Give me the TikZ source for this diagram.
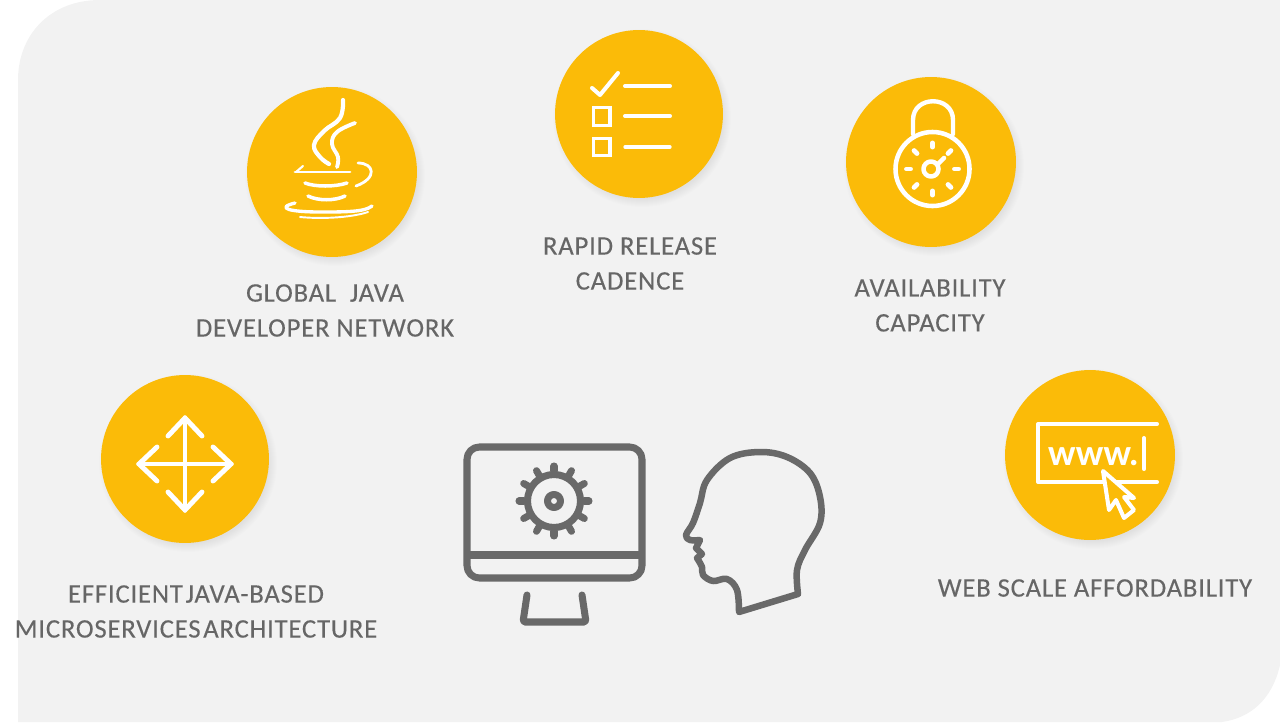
\documentclass[tikz,border=0pt]{standalone}
\usepackage{fontspec}
\setmainfont{Carlito}
\newfontfamily\labelfont[LetterSpace=3,FakeBold=.25]{Carlito}
\definecolor{panelgray}{HTML}{F2F2F2}
\definecolor{badgeyellow}{HTML}{FBBB08}
\definecolor{icongray}{HTML}{696969}
\definecolor{labelgray}{HTML}{666666}
\tikzset{
	badge/.style={circle,fill=badgeyellow,inner sep=0pt,minimum size=#1*0.04cm},
	labeltext/.style={text=labelgray,align=center,font=\labelfont\fontsize{15.2}{19.9}\selectfont},
	whiteline/.style={draw=white,line width=2.3pt,line cap=round,line join=round},
	grayline/.style={draw=icongray,line width=4pt,line cap=round,line join=round}
}
\newcommand{\softshadow}[3]{%
	\foreach \s in {0,1,...,8}{\fill[black,opacity=.007] (#1+3,#2+4) circle ({#3+\s-3});}
}
\begin{document}
\begin{tikzpicture}[x=0.02cm,y=-0.02cm]
	\useasboundingbox (0,0) rectangle (1280,723);
	%panel
	\fill[panelgray] (18,722) -- (18,80) .. controls (18,35) and (50,0) .. (100,0) -- (1280,0) -- (1280,665) .. controls (1272,700) and (1250,718) .. (1222,722) -- cycle;
	%java
	\softshadow{332}{172}{85}
	\node[badge=85] (java) at (332,172) {};
	\draw[whiteline,line width=2.4pt] plot[smooth,tension=.7] coordinates {(343,100) (340,118) (324,131) (314,145) (320,157) (329,164)};
	\draw[whiteline,line width=2.2pt] plot[smooth,tension=.7] coordinates {(355,123) (337,132) (332,144) (338,157) (337,167)};
	\draw[whiteline,line width=1.7pt] (295,172) -- (350,172);
	\draw[whiteline,line width=1.2pt] (303,166) -- (296,172);
	\draw[whiteline,line width=1.6pt] (358,163) .. controls (374,163) and (378,178) .. (356,186);
	\draw[whiteline,line width=2pt] (305,183) .. controls (315,187) and (335,187) .. (347,183);
	\draw[whiteline,line width=2pt] (308,196) .. controls (318,201) and (335,201) .. (345,196);
	\draw[whiteline,line width=1.9pt] (295,203) .. controls (275,208) and (290,212) .. (320,212) .. controls (345,212) and (365,212) .. (372,206);
	\draw[whiteline,line width=1.1pt] (300,217) .. controls (320,219) and (350,218) .. (368,212);
	%checklist
	\softshadow{639}{114}{84}
	\node[badge=84] (checklist) at (639,114) {};
	\draw[whiteline] (592,88) -- (600,95) -- (618,73);
	\draw[whiteline] (625,86) -- (670,86);
	\draw[whiteline] (625,116) -- (670,116);
	\draw[whiteline,line width=1.9pt] (625,147) -- (670,147);
	\draw[whiteline,line width=2.2pt,line cap=butt,line join=miter] (593.5,107.5) rectangle (610,125.5);
	\draw[whiteline,line width=2.2pt,line cap=butt,line join=miter] (593.5,138.5) rectangle (610,155.5);
	%lock
	\softshadow{931}{162}{85}
	\node[badge=85] (lock) at (931,162) {};
	\draw[whiteline,line width=2.5pt] (913,134) -- (913,120) .. controls (913,95) and (953,95) .. (953,120) -- (953,134);
	\draw[whiteline,line width=2.6pt] (932.5,169) circle (37);
	\draw[whiteline,line width=2.6pt] (931,169) circle (7.5);
	\draw[whiteline,line width=2.6pt] (938,164) -- (944,158);
	\foreach \a in {0,45,...,315}{
		\draw[whiteline,line width=2.8pt] (932.5,169)+(\a:22) -- +(\a:26);
	}
	%www
	\softshadow{1090}{455}{85}
	\node[badge=85] (www) at (1090,455) {};
	\draw[whiteline] (1157,424) -- (1038,424) -- (1038,482) -- (1157,482);
	\node[text=white,font=\bfseries\fontsize{21}{21}\selectfont,anchor=base,inner sep=0pt] (wwwtext) at (1093.5,465) {www.};
	\draw[whiteline] (1144,438) -- (1144,469);
	\draw[whiteline,fill=badgeyellow] (1103,471) -- (1109,510) -- (1116,500) -- (1124,518) -- (1134,510) -- (1124,497) -- (1134,498) -- cycle;
	%arrows
	\softshadow{185}{459}{84}
	\node[badge=84] (arrows) at (185,459) {};
	\draw[whiteline,line width=2pt] (185,417) -- (185,511);
	\draw[whiteline,line width=2pt] (138,464) -- (232,464);
	\draw[whiteline,line width=2.8pt] (168,436) -- (185,418) -- (202,436);
	\draw[whiteline,line width=2.8pt] (168,492) -- (185,510) -- (202,492);
	\draw[whiteline,line width=2.8pt] (157,447) -- (139,464) -- (157,481);
	\draw[whiteline,line width=2.8pt] (213,447) -- (231,464) -- (213,481);
	%monitor
	\draw[grayline,rounded corners=7pt] (467,447) rectangle (642,578);
	\draw[grayline,line cap=butt] (467,555) -- (642,555);
	\draw[grayline,rounded corners=1pt] (527,595) -- (523,622) -- (586,622) -- (582,595);
	\draw[grayline] (554,501) circle (26.5);
	\draw[grayline] (554,501) circle (6.5);
	\foreach \a in {0,30,...,330}{
		\draw[grayline] (554,501)+(\a:30) -- +(\a:35);
	}
	%head
	\draw[grayline,line width=3.7pt] plot[smooth,tension=.6] coordinates {(798,594) (797,570) (805,550) (820,523) (820,497) (810,473) (787,457) (760,452) (730,458) (707,480) (700,503) (693,523) (686,535) (690,540) (700,540)} -- (696,548) -- (702,554) -- (697,558) -- plot[smooth,tension=.6] coordinates {(697,558) (702,567) (703,575) (713,581) (727,579) (737,590) (739,612)} -- cycle;
	%labels
	\node[labeltext] (javatext) at (325,310.5) {GLOBAL\ \ JAVA\\DEVELOPER NETWORK};
	\node[labeltext] (checklisttext) at (630,263.5) {RAPID RELEASE\\CADENCE};
	\node[labeltext] (locktext) at (930,305.5) {AVAILABILITY\\CAPACITY};
	\node[labeltext] (wwwlabel) at (1095,588) {WEB SCALE AFFORDABILITY};
	\node[labeltext] (arrowstext) at (196,611.5) {\spaceskip=.1em EFFICIENT JAVA-BASED\\\spaceskip=.1em MICROSERVICES ARCHITECTURE};
\end{tikzpicture}
\end{document}
